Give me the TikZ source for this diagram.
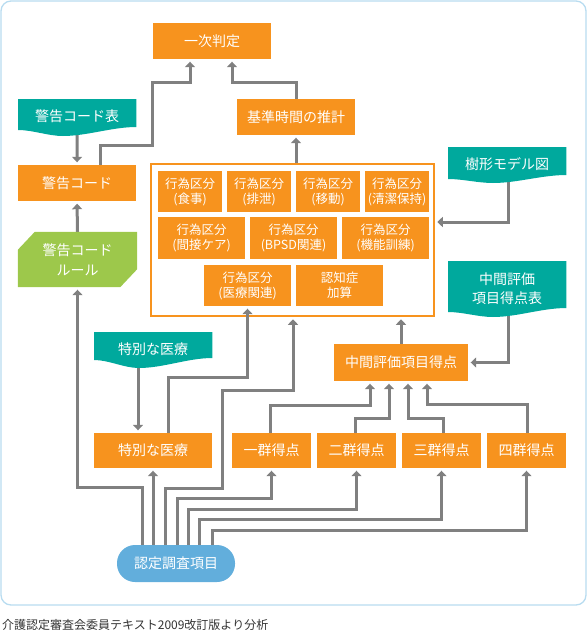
\documentclass[tikz,border=0pt]{standalone}
\usepackage{fontspec}
\setmainfont{Noto Sans CJK JP}
\usetikzlibrary{arrows.meta,calc}
\definecolor{orng}{HTML}{F7931E}
\definecolor{tealc}{HTML}{00A99D}
\definecolor{grn}{HTML}{9DC84B}
\definecolor{blu}{HTML}{62AEDC}
\definecolor{lgray}{HTML}{808080}
\definecolor{framec}{HTML}{B8DCF0}
\definecolor{capc}{HTML}{333333}
\pgfdeclarelayer{lines}
\pgfdeclarelayer{docs}
\pgfsetlayers{lines,docs,main}
\newcommand\wavedoc[4]{%
  \fill[tealc] (#1.north west) -- (#1.north east) -- ($(#1.north east)+(0,#4)$)
    .. controls ($(#1.north west)+(94,#4)$) and ($(#1.north west)+(69,#3)$) .. ($(#1.north west)+(45,#3)$)
    .. controls ($(#1.north west)+(30,#3)$) and ($(#1.north west)+(15,#2)$) .. ($(#1.north west)+(0,#2)$) -- cycle;}
\begin{document}
\begin{tikzpicture}[x=1pt,y=-1pt,
  box/.style={fill=orng, text=white, font=\fontsize{14}{20}\selectfont, minimum width=118pt, minimum height=36pt, inner sep=0pt, align=center},
  ibox/.style={fill=orng, text=white, font=\fontsize{12.5}{15}\selectfont, inner sep=0pt, align=center},
  doc/.style={text=white, font=\fontsize{14}{19}\selectfont, minimum width=118pt, inner sep=0pt, align=center, anchor=north west},
  arr/.style={draw=lgray, line width=3pt, -{Triangle[width=10pt,length=5.5pt]}, shorten >=2.5pt},
  ]
\useasboundingbox (0,0) rectangle (587,632);
\draw[framec, line width=1.3pt, rounded corners=10pt] (1,1) rectangle (586,605);

\node[box] (ichiji) at (212,41) {一次判定};
\node[box] (kijun) at (296,117) {基準時間の推計};
\node[doc, minimum height=34pt] (kt) at (18,99) {警告コード表};
\node[box] (kc) at (77,183) {警告コード};
\node[box, fill=none, minimum width=119pt, minimum height=55pt] (kr) at (77.5,259.5) {警告コード\\ルール};

\node[draw=orng, line width=1.5pt, fill=white, minimum width=283pt, minimum height=152pt, inner sep=0pt] (big) at (292.5,240) {};
\node[ibox, minimum width=64pt, minimum height=41pt] (i1) at (190,191.5) {行為区分\\(食事)};
\node[ibox, minimum width=64pt, minimum height=41pt] (i2) at (259,191.5) {行為区分\\(排泄)};
\node[ibox, minimum width=64pt, minimum height=41pt] (i3) at (328,191.5) {行為区分\\(移動)};
\node[ibox, minimum width=64pt, minimum height=41pt] (i4) at (397,191.5) {行為区分\\(清潔保持)};
\node[ibox, minimum width=87pt, minimum height=42pt] (i5) at (201.5,238) {行為区分\\(間接ケア)};
\node[ibox, minimum width=87pt, minimum height=42pt] (i6) at (293.5,238) {行為区分\\(BPSD関連)};
\node[ibox, minimum width=87pt, minimum height=42pt] (i7) at (385.5,238) {行為区分\\(機能訓練)};
\node[ibox, minimum width=87pt, minimum height=41pt] (i8) at (247.5,285.5) {行為区分\\(医療関連)};
\node[ibox, minimum width=87pt, minimum height=41pt] (i9) at (339.5,285.5) {認知症\\加算};

\node[doc, minimum height=34pt] (jm) at (448,147) {樹形モデル図};
\node[doc, minimum height=54pt] (ct) at (448,261) {中間評価\\項目得点表};
\node[box, minimum width=134pt, minimum height=37pt] (cs) at (401,362.5) {中間評価項目得点};

\node[box, minimum width=79pt, minimum height=35pt] (g1) at (271.5,450.5) {一群得点};
\node[box, minimum width=79pt, minimum height=35pt] (g2) at (356.5,450.5) {二群得点};
\node[box, minimum width=79pt, minimum height=35pt] (g3) at (441.5,450.5) {三群得点};
\node[box, minimum width=79pt, minimum height=35pt] (g4) at (526.5,450.5) {四群得点};

\node[doc, minimum height=34pt] (tb) at (94,332) {特別な医療};
\node[box, minimum height=35pt] (tm) at (153,450.5) {特別な医療};

\node[fill=blu, text=white, rounded corners=18pt, minimum width=118pt, minimum height=37pt, inner sep=0pt, font=\fontsize{14}{20}\selectfont] (nt) at (176,563.5) {認定調査項目};

\node[anchor=west, text=capc, inner sep=0pt, font=\fontsize{12}{14}\selectfont] (cap) at (2,625) {介護認定審査会委員テキスト2009改訂版より分析};

\begin{pgfonlayer}{docs}
\wavedoc{kt}{31}{37}{28}
\wavedoc{jm}{32}{36}{28}
\wavedoc{ct}{51}{56}{47}
\wavedoc{tb}{28}{36}{26}
\fill[grn] ($(kr.north west)+(0,18)$) -- ($(kr.north west)+(17,0)$) -- (kr.north east)
  -- ($(kr.south east)+(0,-18)$) -- ($(kr.south east)+(-17,0)$) -- (kr.south west) -- cycle;
\end{pgfonlayer}

\draw[arr] (168,0 |- tm.north) |- (i8.south |- 0,377) -- (i8.south);

\begin{pgfonlayer}{lines}
\draw[arr] (100,0 |- kc.north) -- (100,145) -- (152,145) -- (152,82) -- (190,82) -- (190,0 |- ichiji.south);
\draw[arr] (kijun.north) |- (232,82) -- (232,0 |- ichiji.south);
\draw[arr] (kijun.south |- big.north) -- (kijun.south);
\draw[arr] (kt.south) -- (kc.north);
\draw[arr] (kr.north) -- (kc.south);
\draw[arr] (142,0 |- nt.north) |- (kr.south |- 0,487) -- (kr.south);
\draw[arr] (153,0 |- nt.north) -- (tm.south);
\draw[arr] (165,0 |- nt.north) -- (165,488) -- (222,488) -- (222,390) -- (293,390) -- (293,0 |- big.south);
\draw[arr] (177,0 |- nt.north) |- (g1.south |- 0,498) -- (g1.south);
\draw[arr] (188,0 |- nt.north) |- (g2.south |- 0,509) -- (g2.south);
\draw[arr] (199,0 |- nt.north) |- (g3.south |- 0,519) -- (g3.south);
\draw[arr] (212,0 |- nt.north) |- (g4.south |- 0,530) -- (g4.south);
\draw[arr] (138,0 |- tb.south) -- (138,0 |- tm.north);
\draw[arr] (508,0 |- jm.south) |- (big.east |- 0,222);
\draw[arr] (508,0 |- ct.south) |- (cs.east);
\draw[arr] (cs.north) -- (cs.north |- big.south);
\draw[arr] (270,0 |- g1.north) |- (370,405) -- (370,0 |- cs.south);
\draw[arr] (355,0 |- g2.north) |- (389,418) -- (389,0 |- cs.south);
\draw[arr] (443,0 |- g3.north) |- (408,418) -- (408,0 |- cs.south);
\draw[arr] (527,0 |- g4.north) |- (427,404) -- (427,0 |- cs.south);
\end{pgfonlayer}
\end{tikzpicture}
\end{document}
